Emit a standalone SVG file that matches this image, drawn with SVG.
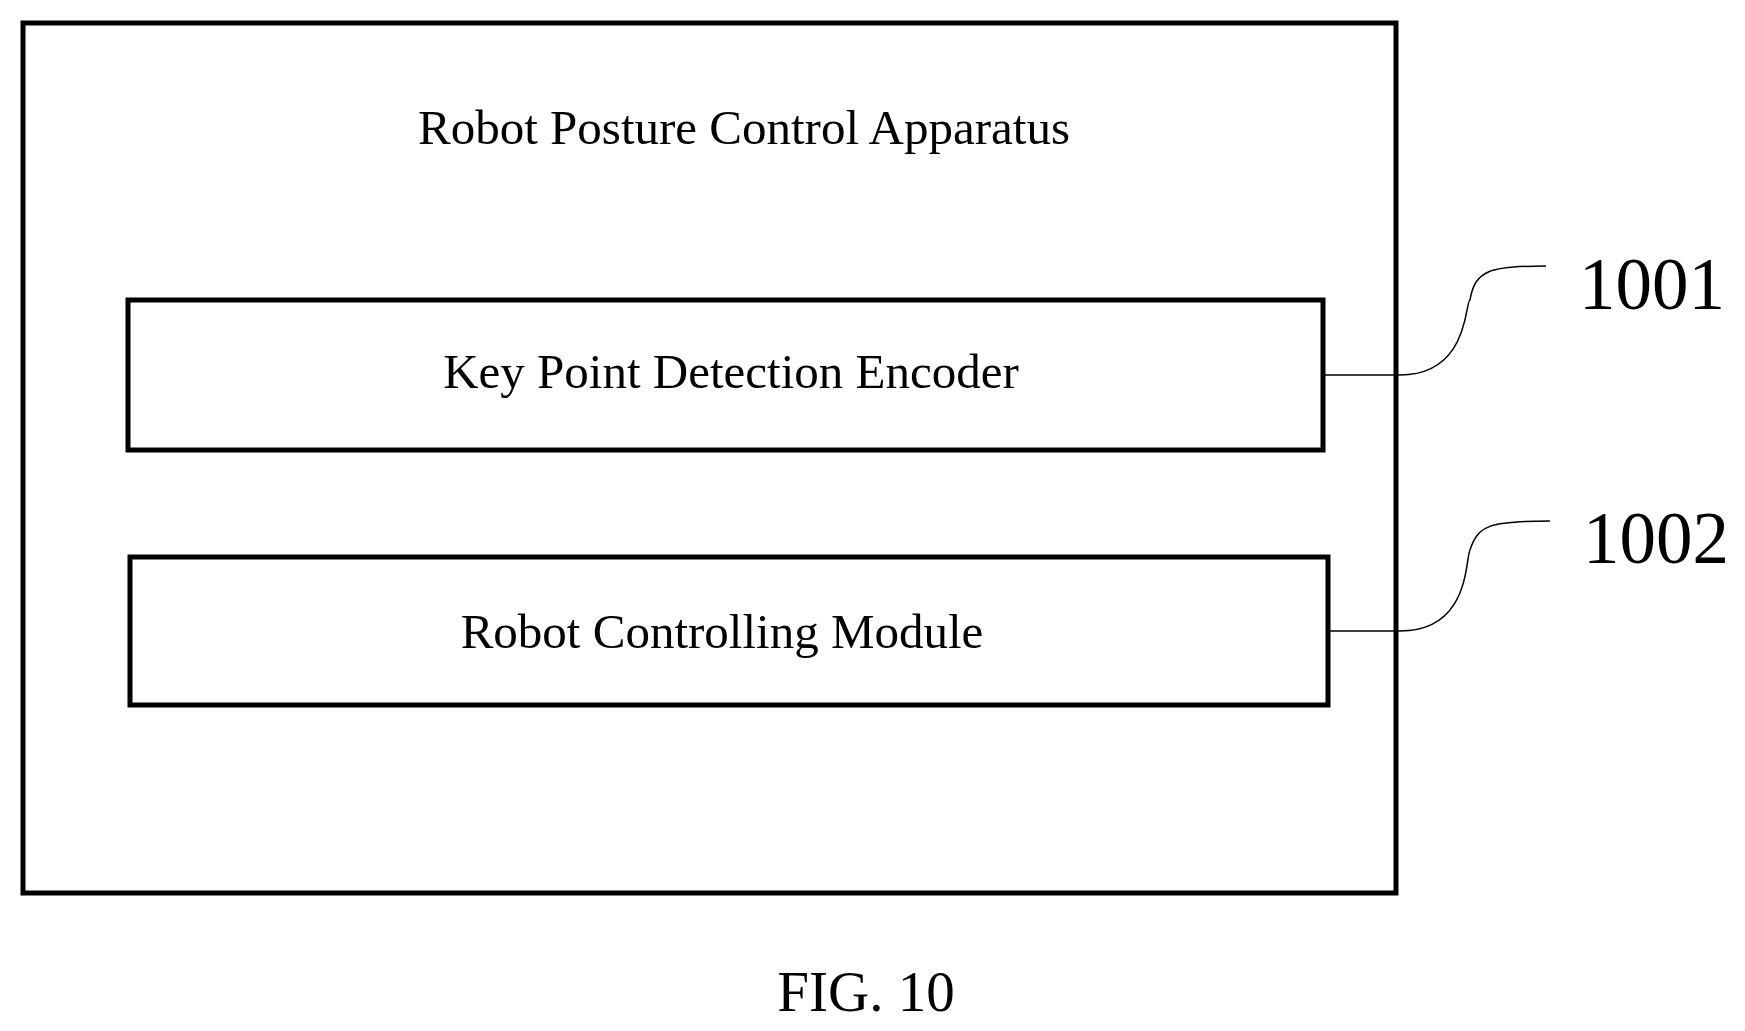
<svg xmlns="http://www.w3.org/2000/svg" width="1745" height="1031" viewBox="0 0 1745 1031">
<style>
text{font-family:"Liberation Serif",serif;fill:#000}
.box{fill:none;stroke:#000;stroke-width:5}
.lead{fill:none;stroke:#000;stroke-width:1.5}
</style>
<rect width="1745" height="1031" fill="#fff"/>
<g id="apparatus"><rect class="box" x="23" y="23" width="1373" height="870"/>
<text x="744" y="144" font-size="49" text-anchor="middle">Robot Posture Control Apparatus</text></g>
<g id="n1001"><rect class="box" x="128" y="300" width="1195" height="150"/>
<text x="731" y="388" font-size="49" text-anchor="middle">Key Point Detection Encoder</text></g>
<g id="n1002"><rect class="box" x="130" y="557" width="1198" height="148"/>
<text x="722" y="648" font-size="49" text-anchor="middle">Robot Controlling Module</text></g>
<g id="connectors">
<path class="lead" d="M1323 375 H1400 C1470 375 1465 300 1470 300 C1475 270 1490 266 1546 266"/>
<path class="lead" d="M1328 631 H1400 C1470 631 1465 560 1470 550 C1478 525 1490 521 1550 521"/>
</g>
<g id="labels">
<text x="1579" y="309" font-size="73">1001</text>
<text x="1583" y="563" font-size="73">1002</text>
<text x="866" y="1011" font-size="57" text-anchor="middle">FIG. 10</text>
</g>
</svg>
